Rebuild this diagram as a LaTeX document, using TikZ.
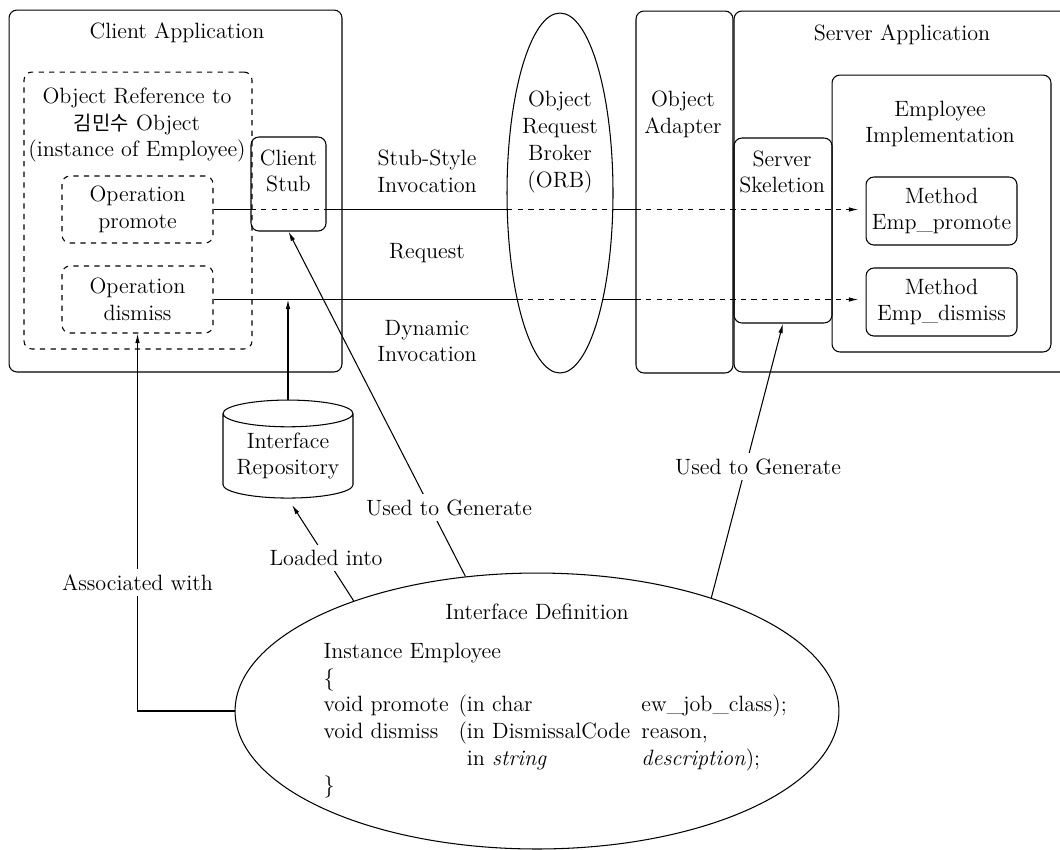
\documentclass[tikz,border=0pt]{standalone}
\usepackage{fontspec}
\newfontfamily\krfont[Scale=0.9]{Noto Sans CJK KR}
\usetikzlibrary{arrows.meta,shapes.geometric}
\begin{document}
\fontsize{12.6}{15.25}\selectfont
\begin{tikzpicture}[x=0.02cm, y=-0.02cm, line width=0.6pt,
  box/.style={draw, rounded corners=4.5pt, inner sep=0pt},
  dbox/.style={box, dashed},
  txt/.style={align=center, inner sep=0pt},
  lbl/.style={fill=white, inner sep=3pt, align=center},
  arr/.style={-{Latex[length=5.5pt, width=2.6pt]}}]
  \useasboundingbox (0,0) rectangle (1060,849);
  % 클라이언트 쪽
  \node[box, minimum width=6.66cm, minimum height=7.24cm] (client) at (175.5,191) {};
  \node[txt] (clientT) at (177,33) {Client Application};
  \node[dbox, minimum width=4.56cm, minimum height=5.54cm] (oref) at (138,210.5) {};
  \node[txt] (orefT) at (137,125) {Object Reference to\\{\krfont 김민수} Object\\(instance of Employee)};
  \node[dbox, minimum width=3.02cm, minimum height=1.34cm, align=center] (opP) at (137.5,209.5) {Operation\\promote};
  \node[dbox, minimum width=3.02cm, minimum height=1.34cm, align=center] (opD) at (137.5,299.5) {Operation\\dismiss};
  \node[box, minimum width=1.5cm, minimum height=1.88cm] (stub) at (288.5,184) {};
  \node[txt] (stubT) at (288.5,171) {Client\\Stub};
  % ORB
  \node[draw, ellipse, minimum width=2.12cm, minimum height=7.2cm, inner sep=0pt] (orb) at (560,193) {};
  \node[txt] (orbT) at (560,142) {Object\\Request\\Broker\\(ORB)};
  % 서버 쪽
  \node[box, minimum width=1.94cm, minimum height=7.24cm] (adapter) at (684.5,192) {};
  \node[txt] (adapterT) at (683,114) {Object\\Adapter};
  \node[box, minimum width=6.82cm, minimum height=7.22cm] (server) at (904.5,191.5) {};
  \node[txt] (serverT) at (902,35) {Server Application};
  \node[box, minimum width=1.96cm, minimum height=3.7cm] (skel) at (783,230.5) {};
  \node[txt] (skelT) at (782,172) {Server\\Skeletion};
  \node[box, minimum width=4.38cm, minimum height=5.54cm] (impl) at (941.5,213.5) {};
  \node[txt] (implT) at (940,124) {Employee\\Implementation};
  \node[box, minimum width=3.02cm, minimum height=1.36cm, align=center] (mP) at (941.5,211) {Method\\Emp\_promote};
  \node[box, minimum width=3.02cm, minimum height=1.36cm, align=center] (mD) at (941.5,302) {Method\\Emp\_dismiss};
  % 호출 방식
  \node[txt] (stubInv) at (427,171) {Stub-Style\\Invocation};
  \node[txt] (req) at (427,253) {Request};
  \node[txt] (dynInv) at (427,341) {Dynamic\\Invocation};
  % 인터페이스 저장소와 정의
  \node[draw, cylinder, shape border rotate=90, aspect=0.26, minimum width=2.6cm, minimum height=1.96cm, align=center, inner sep=0pt] (repo) at (288,456) {Interface\\Repository};
  \node[draw, ellipse, minimum width=12.08cm, minimum height=5.52cm, inner sep=0pt] (idef) at (537,711) {};
  \node[txt] (idefT) at (537,612) {Interface Definition};
  \node[anchor=north west, inner sep=0pt] (code) at (323,639) {%
    \begin{tabular}{@{}p{2.7cm}@{}p{3.66cm}@{}l@{}}
      \multicolumn{3}{@{}l@{}}{Instance Employee} \\
      \{ & & \\
      void promote & (in char & ew\_job\_class); \\
      void dismiss & (in DismissalCode & reason, \\
      & \phantom{(}in \textit{string} & \textit{description}); \\
      \} & &
    \end{tabular}};
  % 요청 경로
  \coordinate (orbP1) at (507.2,209.5);
  \coordinate (orbP2) at (612.8,209.5);
  \coordinate (orbD1) at (517.4,299.5);
  \coordinate (orbD2) at (602.6,299.5);
  \draw (opP.east) -- (stub.west |- opP.east);
  \draw[dashed] (stub.west |- opP.east) -- (stub.east |- opP.east);
  \draw (stub.east |- opP.east) -- (orbP1);
  \draw[dashed] (orbP1) -- (orbP2);
  \draw (orbP2) -- (adapter.west |- opP.east);
  \draw[dashed, arr, shorten >=4pt] (adapter.west |- opP.east) -- (mP.west |- opP.east);
  \draw (opD.east) -- (orbD1);
  \draw[dashed] (orbD1) -- (orbD2);
  \draw (orbD2) -- (adapter.west |- opD.east);
  \draw[dashed, arr, shorten >=4pt] (adapter.west |- opD.east) -- (mD.west |- opD.east);
  % 연결선
  \draw[arr] (repo.north) -- (repo.north |- opD.east);
  \draw[arr] (idef.west) -| node[lbl, pos=0.67] (assoc) {Associated with} (opD.south);
  \draw[arr, shorten >=0.15cm] (idef.149) -- node[lbl, pos=0.42] (loaded) {Loaded into} (repo.south);
  \draw[arr] (idef.118) -- node[lbl, pos=0.2, xshift=0.38cm] (gen1) {Used to Generate} (stub.south);
  \draw[arr] (idef.33) -- node[lbl, pos=0.478, xshift=0.25cm] (gen2) {Used to Generate} (skel.south);
\end{tikzpicture}
\end{document}
